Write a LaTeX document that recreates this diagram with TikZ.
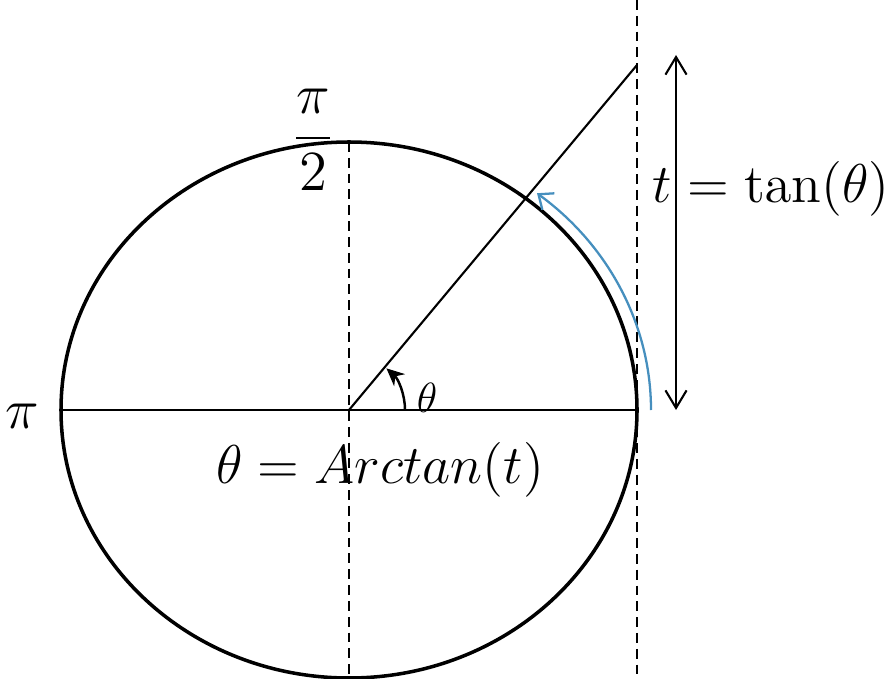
\documentclass[tikz,border=0pt]{standalone}
\usepackage{amsmath}
\usepackage{graphicx}
\usetikzlibrary{arrows.meta,calc}
\definecolor{arcblue}{RGB}{70,143,190}
\begin{document}
\begin{tikzpicture}[x=0.01cm,y=-0.01cm,
  thin line/.style={line width=0.6pt},
  dashline/.style={line width=0.75pt,dash pattern=on 2.8pt off 1.7pt},
  lbl/.style={font=\fontsize{14.4}{17}\selectfont, inner sep=0pt},
  small lbl/.style={font=\fontsize{12}{14}\selectfont, inner sep=0pt}]
\useasboundingbox (0,0) rectangle (891,679);
% key points
\coordinate (O) at (349,410);
\coordinate (L) at (61,410);
\coordinate (R) at (637,410);
\coordinate (T) at (349,142);
\coordinate (B) at (349,679);
\coordinate (VT) at (637,0);
\coordinate (VB) at (637,679);
\coordinate (P) at (637,65);
\coordinate (A1) at (676,55);
\coordinate (A2) at (676,410);
% ellipse
\draw[line width=1pt] (O) ellipse [x radius=288, y radius=268];
% dashed verticals
\draw[dashline] (T) -- (B);
\draw[dashline] (VT) -- (VB);
% solid lines
\draw[thin line] (L) -- (R);
\draw[thin line] (O) -- (P);
% angle arc
\draw[line width=0.7pt, -{Stealth[length=5pt,width=4.6pt]}] ($(O)+(56,0)$) arc[start angle=0, end angle=-48, x radius=56, y radius=56];
% blue arc
\draw[arcblue, line width=0.65pt, -{Straight Barb[length=3.5pt,width=5.8pt]}]
  ($(O)+(302,0)$) arc[start angle=0, end angle=-51.5, x radius=302, y radius=277];
% double arrow
\draw[thin line, {Straight Barb[length=5pt,width=6pt]}-{Straight Barb[length=5pt,width=6pt]}] (A1) -- (A2);
% labels
\node[lbl] (halfpi) at (313,140) {\scalebox{1.12}{$\dfrac{\pi}{2}$}};
\node[lbl] (pi) at (22,416) {\scalebox{1.12}{$\pi$}};
\node[small lbl] (th) at (427,398) {$\theta$};
\node[lbl] (arct) at (380,470) {\scalebox{1.08}{$\theta = Arctan(t)$}};
\node[lbl, anchor=west] (tant) at (652,189) {\scalebox{1.08}{$t = \tan(\theta)$}};
\end{tikzpicture}
\end{document}
